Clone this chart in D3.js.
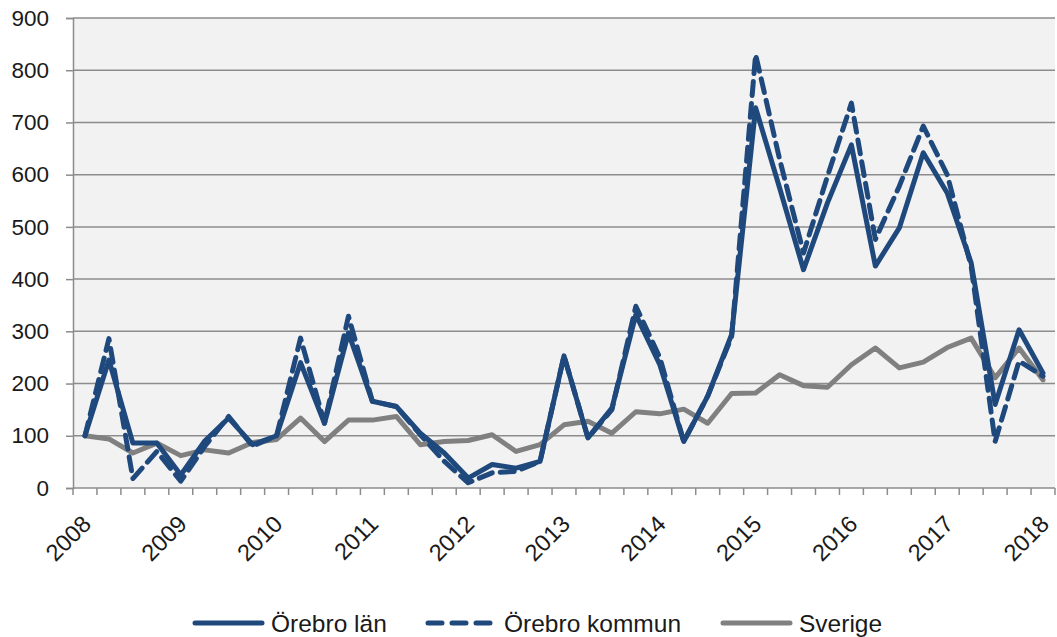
<!DOCTYPE html>
<html>
<head>
<meta charset="utf-8">
<script src="https://cdn.jsdelivr.net/npm/d3@7"></script>
<style>
  body { margin: 0; background: #fff; }
  text { font-family: "Liberation Sans", Arial, sans-serif; fill: #1a1a1a; }
</style>
</head>
<body>
<div id="chart"></div>
<script>
// quarterly index, 2008 Q1 = 100
const years = ["2008","2009","2010","2011","2012","2013","2014","2015","2016","2017","2018"];
const quarters = d3.range(41); // 2008 Q1 .. 2018 Q1

const lan = [100,245,86,86,25,90,134,83,100,240,124,297,166,156,105,67,19,45,38,51,
             253,96,153,332,236,89,176,294,728,575,418,546,657,425,498,642,565,431,160,303,220];
const kommun = [100,286,18,70,13,80,137,80,100,287,124,329,166,156,102,51,10,29,32,51,
                253,96,150,348,250,89,176,290,830,630,450,597,737,476,578,693,600,424,89,243,214];
const sverige = [100,94,67,86,62,73,67,87,93,134,89,130,130,137,83,89,91,102,70,83,
                 121,128,105,146,142,151,124,181,182,217,196,193,236,268,230,241,269,287,211,268,207];

const yTicks = [0,100,200,300,400,500,600,700,800,900];

const series = [
  { name: "Örebro län", values: lan, color: "#1f497d", dash: null },
  { name: "Örebro kommun", values: kommun, color: "#1f497d", dash: "14,8" },
  { name: "Sverige", values: sverige, color: "#808080", dash: null }
];

const W = 1057, H = 637;
const margin = { top: 18, right: 2, bottom: 149, left: 73 };
const width = W - margin.left - margin.right,
      height = H - margin.top - margin.bottom;

const svg = d3.select("#chart").append("svg")
  .attr("width", W).attr("height", H);

const g = svg.append("g")
  .attr("transform", "translate(" + margin.left + "," + margin.top + ")");

const x = d3.scaleBand().domain(quarters).range([0, width]).padding(0);
const y = d3.scaleLinear().domain([0, 900]).range([height, 0]);

// plot background
g.append("rect")
  .attr("width", width).attr("height", height)
  .attr("fill", "#f2f2f2");

// gridlines
g.selectAll(".grid").data(yTicks.filter(d => d > 0)).enter()
  .append("line")
  .attr("x1", 0).attr("x2", width)
  .attr("y1", d => y(d)).attr("y2", d => y(d))
  .attr("stroke", "#8c8c8c").attr("stroke-width", 1.5);

// y axis
const yAxis = g.append("g")
  .call(d3.axisLeft(y).tickValues(yTicks).tickSize(7).tickPadding(17));
yAxis.selectAll("line").attr("stroke", "#8c8c8c").attr("stroke-width", 1.5);
yAxis.select(".domain").attr("stroke", "#8c8c8c").attr("stroke-width", 1.5);
yAxis.selectAll("text").style("font-size", "22.5px").attr("fill", "#1a1a1a");

// x axis: ticks at category boundaries
const xAxis = g.append("g").attr("transform", "translate(0," + height + ")");
xAxis.append("line").attr("x1", 0).attr("x2", width)
  .attr("stroke", "#8c8c8c").attr("stroke-width", 1.5);
xAxis.selectAll(".tick").data(d3.range(42)).enter()
  .append("line")
  .attr("x1", d => d < 41 ? x(d) : width).attr("x2", d => d < 41 ? x(d) : width)
  .attr("y1", 0).attr("y2", 7)
  .attr("stroke", "#8c8c8c").attr("stroke-width", 1.5);

xAxis.selectAll(".year").data(years).enter()
  .append("text")
  .attr("transform", (d, i) => "translate(" + (x(i * 4) + x.bandwidth() / 2 - 5) + ",25) rotate(-45)")
  .attr("text-anchor", "end")
  .attr("dy", "0.75em")
  .style("font-size", "23.5px")
  .text(d => d);

// lines
const line = d3.line()
  .x((d, i) => x(i) + x.bandwidth() / 2)
  .y(d => y(d));

[series[2], series[0], series[1]].forEach(s => {
  g.append("path")
    .datum(s.values)
    .attr("fill", "none")
    .attr("stroke", s.color)
    .attr("stroke-width", 5)
    .attr("stroke-linejoin", "round")
    .attr("stroke-linecap", "round")
    .attr("stroke-dasharray", s.dash)
    .attr("d", line);
});

// legend
const legendX = [195, 428, 723];
const legend = svg.append("g").attr("transform", "translate(0,623)");
series.forEach((s, i) => {
  legend.append("line")
    .attr("x1", legendX[i]).attr("x2", legendX[i] + 67)
    .attr("stroke", s.color).attr("stroke-width", 5)
    .attr("stroke-linecap", "round")
    .attr("stroke-dasharray", s.dash ? "14,10" : null);
  legend.append("text")
    .attr("x", legendX[i] + 76)
    .attr("dy", "0.35em")
    .style("font-size", "24.5px")
    .text(s.name);
});
</script>
</body>
</html>
